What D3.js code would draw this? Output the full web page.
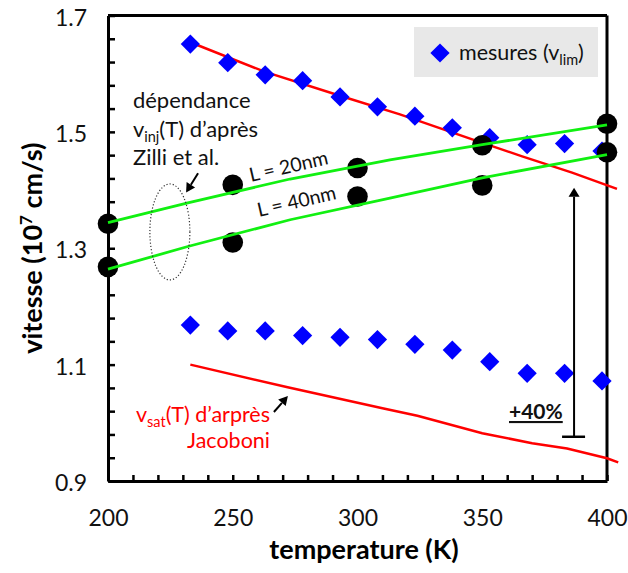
<!DOCTYPE html>
<html>
<head>
<meta charset="utf-8">
<script src="https://cdn.jsdelivr.net/npm/d3@7"></script>
<style>
  body { margin: 0; background: #fff; }
  svg { display: block; font-family: Lato, "Open Sans", sans-serif; }
</style>
</head>
<body>
<svg id="chart" width="628" height="573"></svg>
<script>
// ---------------- data ----------------
const tempMes   = [233, 248, 263, 278, 293, 308, 323, 338, 353, 368, 383, 398];
const vlimHigh  = [1.651, 1.619, 1.598, 1.588, 1.560, 1.543, 1.527, 1.507, 1.490, 1.478, 1.480, 1.467];
const vlimLow   = [1.168, 1.158, 1.158, 1.150, 1.147, 1.143, 1.135, 1.125, 1.105, 1.085, 1.085, 1.072];

const tempFitHigh = [233, 263, 293, 317, 346, 366, 386, 404];
const vFitHigh    = [1.654, 1.603, 1.562, 1.530, 1.487, 1.458, 1.430, 1.402];
const tempSat     = [233, 272, 310, 324, 350, 370, 384, 400, 404.5];
const vSat        = [1.100, 1.061, 1.025, 1.012, 0.982, 0.965, 0.956, 0.939, 0.932];

const tempInj = [200, 232, 273, 313, 350, 400];
const vInj20  = [1.344, 1.378, 1.419, 1.452, 1.478, 1.512];
const vInj40  = [1.264, 1.303, 1.349, 1.386, 1.421, 1.461];

const tempSim = [200, 250, 300, 350, 400];
const vSim20  = [1.342, 1.409, 1.438, 1.477, 1.514];
const vSim40  = [1.268, 1.310, 1.389, 1.408, 1.465];

const xTicksMajor = [200, 250, 300, 350, 400];
const yTicksMajor = [0.9, 1.1, 1.3, 1.5, 1.7];
const xTickLabels = ["200", "250", "300", "350", "400"];
const yTickLabels = ["0.9", "1.1", "1.3", "1.5", "1.7"];

// ---------------- layout ----------------
const svg = d3.select("#chart");
const x = d3.scaleLinear().domain([200, 400]).range([108, 607]);
const y = d3.scaleLinear().domain([0.9, 1.7]).range([481, 15.5]);

const zip = (a, b) => a.map((d, i) => [d, b[i]]);
const line = d3.line().x(d => x(d[0])).y(d => y(d[1]));

// frame (top/right)
svg.append("line").attr("x1", x(200)).attr("x2", x(400)).attr("y1", y(1.7)).attr("y2", y(1.7))
  .attr("stroke", "#000").attr("stroke-width", 3);
svg.append("line").attr("x1", x(400)).attr("x2", x(400)).attr("y1", y(1.7)).attr("y2", y(0.9))
  .attr("stroke", "#000").attr("stroke-width", 3);

// minor ticks
const xMinor = d3.range(200, 401, 10);
const yMinor = d3.range(0, 21).map(i => 0.9 + i * 0.04);

const gx = svg.append("g").attr("transform", `translate(0,${y(0.9)})`)
  .call(d3.axisBottom(x).tickValues(xMinor).tickSize(-6).tickSizeOuter(0).tickFormat(""));
const gy = svg.append("g").attr("transform", `translate(${x(200)},0)`)
  .call(d3.axisLeft(y).tickValues(yMinor).tickSize(-7).tickSizeOuter(0).tickFormat(""));
[gx, gy].forEach(g => {
  g.select(".domain").attr("stroke", "#000").attr("stroke-width", 3);
  g.selectAll(".tick line").attr("stroke", "#000").attr("stroke-width", 2.5);
});

// labels
const gxl = svg.append("g").attr("transform", `translate(0,${y(0.9)})`)
  .call(d3.axisBottom(x).tickValues(xTicksMajor).tickSize(0).tickPadding(0)
    .tickFormat((d, i) => xTickLabels[i]));
gxl.select(".domain").remove();
gxl.selectAll("text").attr("dy", null).attr("y", 45).attr("font-size", 23)
  .attr("font-family", "Lato, 'Open Sans', sans-serif").attr("fill", "#111");

const gyl = svg.append("g").attr("transform", `translate(${x(200)},0)`)
  .call(d3.axisLeft(y).tickValues(yTicksMajor).tickSize(0).tickPadding(0)
    .tickFormat((d, i) => yTickLabels[i]));
gyl.select(".domain").remove();
gyl.selectAll("text").attr("dy", "0.42em").attr("x", -21).attr("font-size", 23)
  .attr("font-family", "Lato, 'Open Sans', sans-serif").attr("fill", "#111");

// axis titles
svg.append("text").attr("x", 364).attr("y", 559).attr("text-anchor", "middle")
  .attr("font-size", 27).attr("font-weight", "bold").attr("fill", "#000")
  .text("temperature (K)");
const yt = svg.append("text").attr("transform", `translate(42,${(y(0.9) + y(1.7)) / 2}) rotate(-90)`)
  .attr("text-anchor", "middle").attr("font-size", 27).attr("font-weight", "bold").attr("fill", "#000");
yt.append("tspan").text("vitesse (10");
yt.append("tspan").attr("dy", -10).attr("font-size", 17).text("7");
yt.append("tspan").attr("dy", 10).text(" cm/s)");

// red lines
svg.append("path").datum(zip(tempFitHigh, vFitHigh)).attr("d", line)
  .attr("fill", "none").attr("stroke", "#ff0000").attr("stroke-width", 2.5);
svg.append("path").datum(zip(tempSat, vSat)).attr("d", line)
  .attr("fill", "none").attr("stroke", "#ff0000").attr("stroke-width", 2.5);

// diamonds
const diamond = d3.symbol(d3.symbolSquare, 185);
[vlimHigh, vlimLow].forEach(vals => {
  svg.append("g").selectAll("path").data(zip(tempMes, vals)).join("path")
    .attr("d", diamond)
    .attr("transform", d => `translate(${x(d[0])},${y(d[1])}) rotate(45)`)
    .attr("fill", "#0000ff");
});

// circles
[vSim20, vSim40].forEach(vals => {
  svg.append("g").selectAll("circle").data(zip(tempSim, vals)).join("circle")
    .attr("cx", d => x(d[0])).attr("cy", d => y(d[1])).attr("r", 10.3).attr("fill", "#000");
});

// green lines
[vInj20, vInj40].forEach(vals => {
  svg.append("path").datum(zip(tempInj, vals)).attr("d", line)
    .attr("fill", "none").attr("stroke", "#11f011").attr("stroke-width", 2.8);
});

// legend
svg.append("rect").attr("x", 414).attr("y", 27).attr("width", 184).attr("height", 50).attr("fill", "#e8e8e8");
svg.append("path").attr("d", diamond).attr("transform", "translate(440,53) rotate(45)").attr("fill", "#0000ff");
const lt = svg.append("text").attr("x", 459).attr("y", 60).attr("font-size", 21.5).attr("fill", "#111");
lt.append("tspan").text("mesures (v");
lt.append("tspan").attr("dy", 5).attr("font-size", 14.5).text("lim");
lt.append("tspan").attr("dy", -5).text(")");

// annotation: dépendance text
const annX = x(210);
const at = svg.append("text").attr("font-size", 22).attr("fill", "#111");
at.append("tspan").attr("x", annX).attr("y", y(1.541)).text("dépendance");
at.append("tspan").attr("x", annX).attr("y", y(1.492)).text("v");
at.append("tspan").attr("dy", 5).attr("font-size", 14.5).text("inj");
at.append("tspan").attr("dy", -5).text("(T) d’après");
at.append("tspan").attr("x", annX).attr("y", y(1.443)).text("Zilli et al.");

// dotted ellipse
svg.append("ellipse").attr("cx", x(224.8)).attr("cy", y(1.328)).attr("rx", 20).attr("ry", 48)
  .attr("fill", "none").attr("stroke", "#333").attr("stroke-width", 1.2).attr("stroke-dasharray", "1.2,2");

function arrow(x1, y1, x2, y2, w, l) {
  const ang = Math.atan2(y2 - y1, x2 - x1);
  const bx = x2 - l * Math.cos(ang), by = y2 - l * Math.sin(ang);
  svg.append("line").attr("x1", x1).attr("y1", y1).attr("x2", bx).attr("y2", by)
    .attr("stroke", "#000").attr("stroke-width", 2);
  const px = -Math.sin(ang) * w / 2, py = Math.cos(ang) * w / 2;
  svg.append("path").attr("d", `M${x2},${y2}L${bx + px},${by + py}L${bx - px},${by - py}Z`).attr("fill", "#000");
}
// arrows
arrow(x(236.1), y(1.429), x(231.3), y(1.396), 10, 9);
arrow(x(266.5), y(1.0186), x(272.1), y(1.046), 10, 9);

// L labels
svg.append("text").attr("transform", `translate(251,182) rotate(-13)`).attr("font-size", 19.5).attr("fill", "#111")
  .text("L = 20nm");
svg.append("text").attr("transform", `translate(259,217) rotate(-13)`).attr("font-size", 19.5).attr("fill", "#111")
  .text("L = 40nm");

// vertical +40% arrow
const vx = x(386.8);
arrow(vx, y(0.976), vx, y(1.404), 11, 9);
svg.append("line").attr("x1", vx - 12).attr("x2", vx + 11).attr("y1", y(0.976)).attr("y2", y(0.976))
  .attr("stroke", "#000").attr("stroke-width", 2.5);
svg.append("text").attr("x", 509).attr("y", 419).attr("font-size", 21).attr("font-weight", "bold")
  .attr("text-decoration", "underline").attr("fill", "#111").text("+40%");

// red annotation
const rt = svg.append("text").attr("font-size", 21.5).attr("fill", "#ff0000").attr("text-anchor", "end");
const r1 = rt.append("tspan").attr("x", 270).attr("y", 422);
r1.append("tspan").text("v");
r1.append("tspan").attr("dy", 5).attr("font-size", 14.5).text("sat");
r1.append("tspan").attr("dy", -5).text("(T) d’arprès");
rt.append("tspan").attr("x", 270).attr("y", 448).text("Jacoboni");
</script>
</body>
</html>
